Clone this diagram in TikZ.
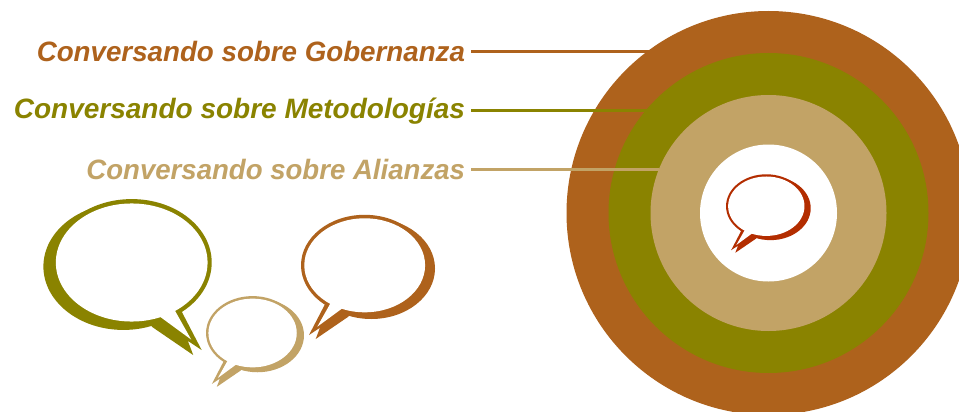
\documentclass[tikz,border=0pt]{standalone}
\usepackage{fontspec}
\setmainfont{Liberation Sans}
\definecolor{cbrown}{HTML}{AE621C}
\definecolor{cgreen}{HTML}{8A8300}
\definecolor{ctan}{HTML}{C2A366}
\definecolor{cred}{HTML}{B32D00}
\newcommand{\speechbubble}[5]{%
  % #1 = x, #2 = y, #3 = xscale, #4 = yscale, #5 = colour
  \begin{scope}[shift={(#1,#2)},xscale=#3,yscale=#4]
    \fill[#5] (0,0) circle [x radius=63.7,y radius=50.5];
    \fill[#5] (6.6,3.2) circle [x radius=63.7,y radius=50.5];
    \fill[#5] (-40,39.5) -- (-55.7,69.7) -- (-44.7,62.4) -- (-49,73.7) -- (-16.4,51.4) -- (0,30) -- cycle;
    \fill[white] (0,0) circle [x radius=60.4,y radius=47];
    \fill[white] (-34.7,38.8) -- (-47.4,61.4) -- (-23,43.5) -- (-20,30) -- cycle;
  \end{scope}}
\tikzset{
  ring/.style={circle,inner sep=0pt,outer sep=0pt,draw=none},
  lab/.style={anchor=base east,inner sep=0pt,outer sep=0pt,font=\fontsize{28}{30}\selectfont\bfseries\itshape},
  leader/.style={line width=3pt}
}
\begin{document}
\begin{tikzpicture}[x=1pt,y=-1pt]
\useasboundingbox (0,0) rectangle (959,412);
\clip (0,0) rectangle (959,412);
\fill[white] (0,0) rectangle (959,412);
\node[ring,fill=cbrown,minimum size=404pt] (c1) at (768.5,213) {};
\node[ring,fill=cgreen,minimum size=320pt] (c2) at (768.5,213) {};
\node[ring,fill=ctan,minimum size=236pt] (c3) at (768.5,213) {};
\node[ring,fill=white,minimum size=137pt] (c4) at (768.5,213) {};
\node[lab,text=cbrown] (l1) at (465,62) {\scalebox{.99}[1]{Conversando sobre Gobernanza}};
\node[lab,text=cgreen] (l2) at (465,118) {Conversando sobre Metodologías};
\node[lab,text=ctan] (l3) at (465,179) {\scalebox{.985}[1]{Conversando sobre Alianzas}};
\coordinate (s1) at (471,51.5); \coordinate (e1) at (650,51.5);
\coordinate (s2) at (471,110.5); \coordinate (e2) at (647,110.5);
\coordinate (s3) at (471,169.5); \coordinate (e3) at (659,169.5);
\draw[leader,cbrown] (s1) -- (e1);
\draw[leader,cgreen] (s2) -- (e2);
\draw[leader,ctan] (s3) -- (e3);
\speechbubble{131.7}{262.5}{-1.256}{1.256}{cgreen}
\speechbubble{252.6}{333}{.731}{.731}{ctan}
\speechbubble{364.7}{265.3}{1}{1}{cbrown}
\speechbubble{766.3}{206.2}{.632}{.632}{cred}
\end{tikzpicture}
\end{document}
